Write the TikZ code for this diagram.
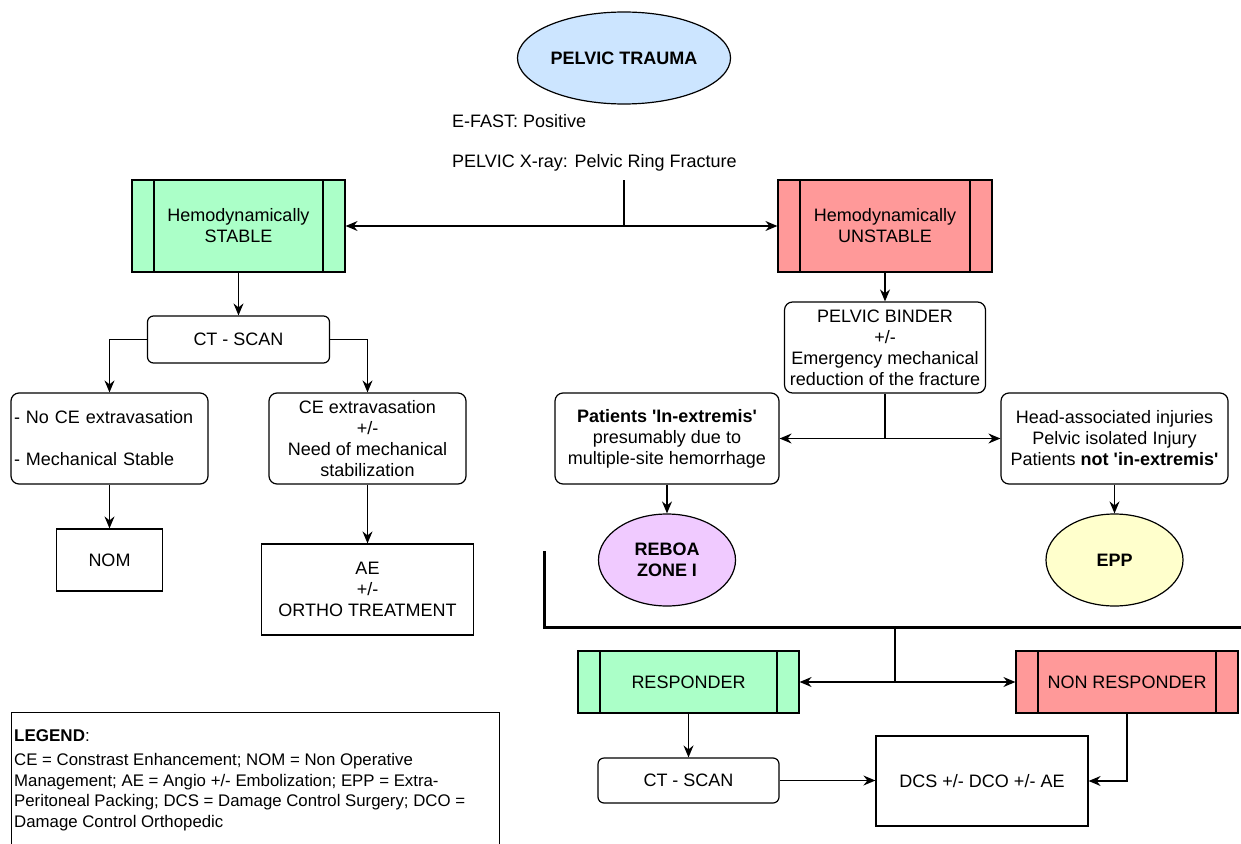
\documentclass[tikz,border=0pt]{standalone}
\usepackage{fontspec}
\setmainfont{Liberation Sans}
\usetikzlibrary{arrows.meta,shapes.geometric}

\definecolor{stablegreen}{RGB}{171,255,200}
\definecolor{unstablered}{RGB}{255,153,153}
\definecolor{traumablue}{RGB}{204,229,255}
\definecolor{reboalilac}{RGB}{240,202,255}
\definecolor{eppyellow}{RGB}{255,255,204}

\newcommand{\sq}{\textquotesingle}

\tikzset{
  base/.style={draw=black, line width=1.2pt, inner sep=2pt, align=center,
    font=\fontsize{18}{21}\selectfont, text=black},
  procbox/.style={base, fill=#1, rectangle,
    path picture={
      \draw[line width=1.2pt] ([xshift=22pt]path picture bounding box.north west) -- ([xshift=22pt]path picture bounding box.south west);
      \draw[line width=1.2pt] ([xshift=-22pt]path picture bounding box.north east) -- ([xshift=-22pt]path picture bounding box.south east);
    }},
  roundbox/.style={base, rectangle, rounded corners=8pt, fill=white},
  plainbox/.style={base, rectangle, fill=white},
  oval/.style={base, ellipse, fill=#1, font=\bfseries\fontsize{18}{21}\selectfont},
  label/.style={anchor=west, inner sep=0pt, font=\fontsize{18}{21}\selectfont},
  conn/.style={line width=1.3pt, -{Stealth[length=12pt,width=10pt,inset=4pt]}},
  plainline/.style={line width=1.3pt},
  heavyline/.style={line width=3pt},
}

\begin{document}
\begin{tikzpicture}[x=1pt,y=-1pt]
\useasboundingbox (0,0) rectangle (1241,843);
\clip (0,0) rectangle (1241,843);

% top of the chart
\node[oval=traumablue, minimum width=184pt, minimum height=92pt] (trauma) at (624,58) {PELVIC TRAUMA};
\node[label] (efast) at (452,121) {E-FAST: Positive};
\node[label] (xray) at (452,163) {PELVIC X-ray: Pelvic Ring Fracture};

\node[procbox=stablegreen, minimum width=213pt, minimum height=92pt] (stable) at (238.5,226) {Hemodynamically\\STABLE};
\node[procbox=unstablered, minimum width=214pt, minimum height=92pt] (unstable) at (885,226) {Hemodynamically\\UNSTABLE};

\coordinate (split) at (624,180);
\coordinate (splitj) at (624,226);
\draw[plainline] (split) -- (splitj);
\draw[conn] (splitj) -- (stable.east);
\draw[conn] (splitj) -- (unstable.west);

% stable branch
\node[roundbox, rounded corners=6pt, minimum width=182pt, minimum height=47pt] (ct1) at (238.5,339.5) {CT - SCAN};
\node[roundbox, minimum width=197pt, minimum height=91pt, align=left, text width=191pt, inner xsep=3pt] (noce) at (109.5,438.5) {- No CE extravasation\\[21pt]- Mechanical Stable};
\node[roundbox, minimum width=197pt, minimum height=91pt] (ce) at (367.5,438.5) {CE extravasation\\+/-\\Need of mechanical\\stabilization};
\node[plainbox, minimum width=106pt, minimum height=62pt] (nom) at (109.5,560) {NOM};
\node[plainbox, minimum width=212pt, minimum height=91pt] (ae) at (367.5,589.5) {AE\\+/-\\ORTHO TREATMENT};

\draw[conn] (stable.south) -- (ct1.north);
\draw[conn] (ct1.west) -| (noce.north);
\draw[conn] (ct1.east) -| (ce.north);
\draw[conn] (noce.south) -- (nom.north);
\draw[conn] (ce.south) -- (ae.north);

% unstable branch
\node[roundbox, minimum width=201pt, minimum height=91pt] (binder) at (885,347.5) {PELVIC BINDER\\+/-\\Emergency mechanical\\reduction of the fracture};
\node[roundbox, minimum width=224pt, minimum height=91pt] (extremis) at (667,438.5) {\textbf{Patients \sq In-extremis\sq}\\presumably due to\\multiple-site hemorrhage};
\node[roundbox, minimum width=227pt, minimum height=91pt] (head) at (1114.5,438.5) {Head-associated injuries\\Pelvic isolated Injury\\Patients \textbf{not \sq in-extremis\sq}};
\node[oval=reboalilac, minimum width=137pt, minimum height=92pt] (reboa) at (667,560) {REBOA\\ZONE I};
\node[oval=eppyellow, minimum width=137pt, minimum height=92pt] (epp) at (1114.5,560) {EPP};

\draw[conn] (unstable.south) -- (binder.north);
\coordinate (binderj) at (885,438.5);
\draw[plainline] (binder.south) -- (binderj);
\draw[conn] (binderj) -- (extremis.east);
\draw[conn] (binderj) -- (head.west);
\draw[conn] (extremis.south) -- (reboa.north);
\draw[conn] (head.south) -- (epp.north);

% bracket gathering both procedures
\coordinate (brtop) at (544,551);
\coordinate (brend) at (1245,627);
\draw[heavyline] (brtop) |- (brend);

% response to treatment
\node[procbox=stablegreen, minimum width=221pt, minimum height=62pt] (resp) at (688.5,682) {RESPONDER};
\node[procbox=unstablered, minimum width=222pt, minimum height=62pt] (nonresp) at (1127,682) {NON RESPONDER};
\node[roundbox, rounded corners=6pt, minimum width=181pt, minimum height=45pt] (ct2) at (688.5,780.5) {CT - SCAN};
\node[plainbox, minimum width=212pt, minimum height=90pt] (dcs) at (982,781) {DCS +/- DCO +/- AE};

\coordinate (respsplit) at (895,627);
\coordinate (respj) at (895,682);
\draw[plainline] (respsplit) -- (respj);
\draw[conn] (respj) -- (resp.east);
\draw[conn] (respj) -- (nonresp.west);
\draw[conn] (resp.south) -- (ct2.north);
\draw[conn] (ct2.east) -- (ct2.east -| dcs.west);
\draw[conn] (nonresp.south) |- (dcs.east);

% legend
\node[draw=black, line width=1.2pt, rectangle, minimum width=488pt, minimum height=150pt, anchor=north west, inner sep=0pt] (legend) at (11,712) {};
\node[anchor=west, inner sep=0pt, font=\fontsize{17}{20.5}\selectfont] (legtitle) at (14,736) {\textbf{LEGEND}:};
\node[anchor=west, inner sep=0pt, align=left, font=\fontsize{16.8}{20.5}\selectfont] (legbody) at (14,792) {CE = Constrast Enhancement; NOM = Non Operative\\Management; AE = Angio +/- Embolization; EPP = Extra-\\Peritoneal Packing; DCS = Damage Control Surgery; DCO =\\Damage Control Orthopedic};
\end{tikzpicture}
\end{document}
